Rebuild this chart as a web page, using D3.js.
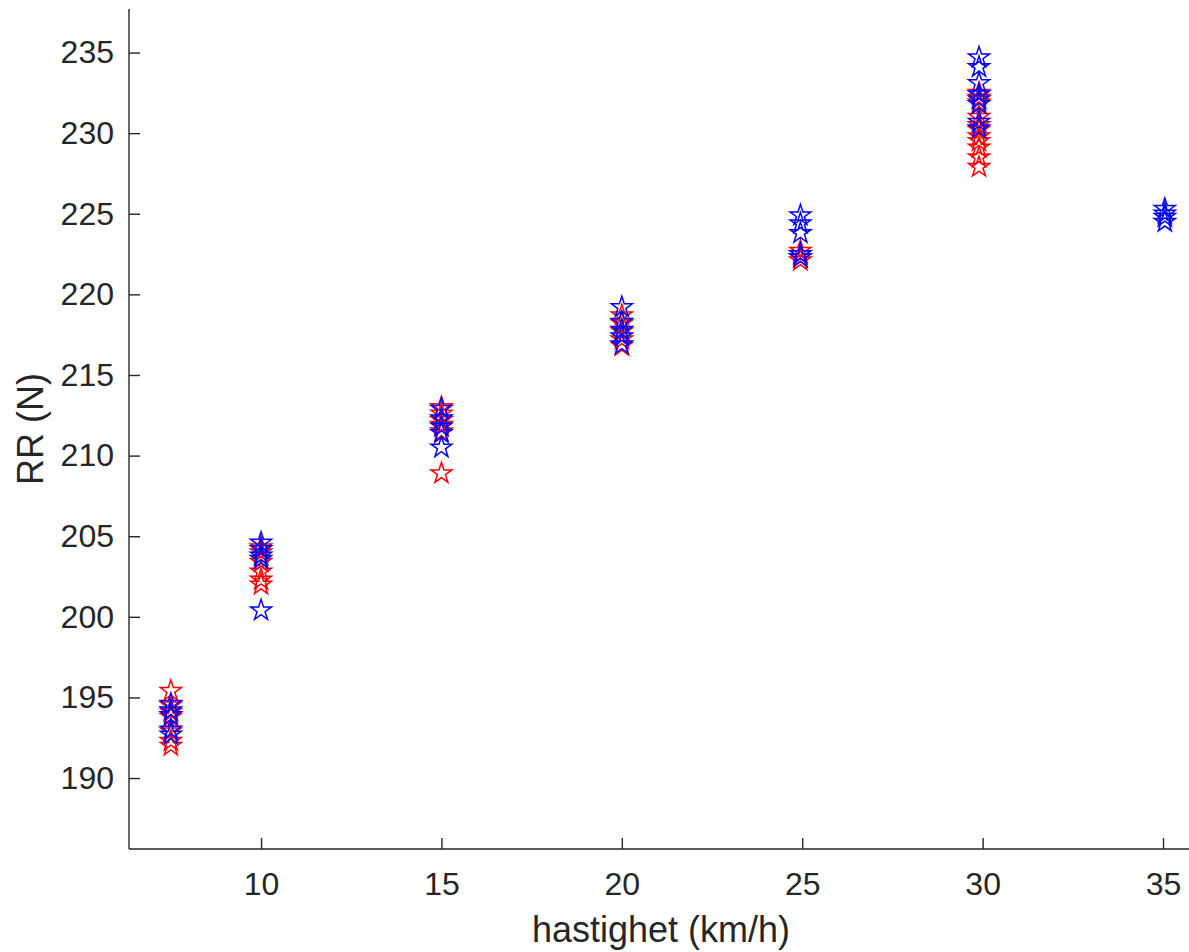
<!DOCTYPE html>
<html>
<head>
<meta charset="utf-8">
<script src="https://cdn.jsdelivr.net/npm/d3@7"></script>
<style>
  html, body { margin: 0; padding: 0; background: #fff; }
  svg { display: block; }
  text { font-family: "Liberation Sans", Arial, Helvetica, sans-serif; fill: #262626; }
</style>
</head>
<body>
<svg id="chart" width="1189" height="952"></svg>
<script>
// ---- data ----
const redX7 = 7.5,  redY7  = [195.4, 194.5, 194.1, 193.8, 192.9, 192.3, 192.0];
const blueX7 = 7.5, blueY7 = [194.6, 194.2, 193.9, 193.0, 192.7];
const redX10 = 10,  redY10  = [204.3, 204.0, 203.4, 202.8, 202.3, 202.0];
const blueX10 = 10, blueY10 = [204.6, 204.2, 203.8, 203.6, 200.4];
const redX15 = 15,  redY15  = [213.0, 212.6, 212.2, 211.9, 211.5, 208.9];
const blueX15 = 15, blueY15 = [212.9, 212.3, 211.8, 211.4, 210.5];
const redX20 = 20,  redY20  = [218.7, 218.2, 217.7, 217.2, 216.8];
const blueX20 = 20, blueY20 = [219.2, 218.3, 217.8, 217.4, 216.9];
const redX25 = 24.95,  redY25  = [222.7, 222.5, 222.3, 222.1];
const blueX25 = 24.95, blueY25 = [224.9, 224.4, 223.8, 222.5, 222.3];
const redX30 = 29.9,  redY30  = [232.5, 232.2, 231.9, 231.0, 230.5, 230.2, 229.8, 229.5, 229.1, 228.5, 227.9];
const blueX30 = 29.9, blueY30 = [234.7, 234.1, 233.1, 232.4, 232.1, 231.8, 230.7, 230.3];
const blueX35 = 35.05, blueY35 = [225.3, 225.0, 224.8, 224.5];

const xTicks = [10, 15, 20, 25, 30, 35];
const yTicks = [190, 195, 200, 205, 210, 215, 220, 225, 230, 235];
const xLabel = "hastighet (km/h)";
const yLabel = "RR (N)";

// ---- build point lists ----
function pts(x, ys) { return ys.map(y => ({x: x, y: y})); }
const redPoints = [].concat(
  pts(redX7, redY7), pts(redX10, redY10), pts(redX15, redY15),
  pts(redX20, redY20), pts(redX25, redY25), pts(redX30, redY30));
const bluePoints = [].concat(
  pts(blueX7, blueY7), pts(blueX10, blueY10), pts(blueX15, blueY15),
  pts(blueX20, blueY20), pts(blueX25, blueY25), pts(blueX30, blueY30),
  pts(blueX35, blueY35));

// ---- layout ----
const L = 129, R = 1189, T = 9, B = 849;
const axisColor = "#262626";

const svg = d3.select("#chart");
const x = d3.scaleLinear().domain([6.34, 35.72]).range([L, R]);
const y = d3.scaleLinear().domain([185.6, 237.7]).range([B, T]);

// axes
const xAxis = d3.axisBottom(x).tickValues(xTicks).tickFormat(d3.format("d"))
  .tickSizeInner(-11).tickSizeOuter(0).tickPadding(23);
const yAxis = d3.axisLeft(y).tickValues(yTicks).tickFormat(d3.format("d"))
  .tickSizeInner(-11).tickSizeOuter(0).tickPadding(15);

const gx = svg.append("g").attr("transform", `translate(0,${B})`).call(xAxis);
const gy = svg.append("g").attr("transform", `translate(${L},0)`).call(yAxis);
[gx, gy].forEach(g => {
  g.select(".domain").remove();
  g.selectAll(".tick line").attr("stroke", axisColor).attr("stroke-width", 1.4);
  g.selectAll(".tick text").attr("fill", axisColor)
    .style("font-size", "32px").style("font-family", "'Liberation Sans', Arial, sans-serif");
});
svg.append("line").attr("x1", L).attr("x2", L).attr("y1", T).attr("y2", B)
  .attr("stroke", axisColor).attr("stroke-width", 1.4);
svg.append("line").attr("x1", L).attr("x2", R).attr("y1", B).attr("y2", B)
  .attr("stroke", axisColor).attr("stroke-width", 1.4);

// labels
svg.append("text").attr("x", 661).attr("y", 942)
  .attr("text-anchor", "middle").style("font-size", "36px").text(xLabel);
svg.append("text").attr("transform", `translate(43,${(T + B) / 2}) rotate(-90)`)
  .attr("text-anchor", "middle").style("font-size", "36px").text(yLabel);

// stars
const star = d3.symbol().type(d3.symbolStar).size(136);
function drawSeries(data, color) {
  svg.append("g").selectAll("path").data(data).join("path")
    .attr("d", star)
    .attr("transform", d => `translate(${x(d.x)},${y(d.y)})`)
    .attr("fill", "none")
    .attr("stroke", color)
    .attr("stroke-width", 1.5)
    .attr("stroke-linejoin", "miter");
}
drawSeries(redPoints, "#ff0000");
drawSeries(bluePoints, "#0000ff");
</script>
</body>
</html>
